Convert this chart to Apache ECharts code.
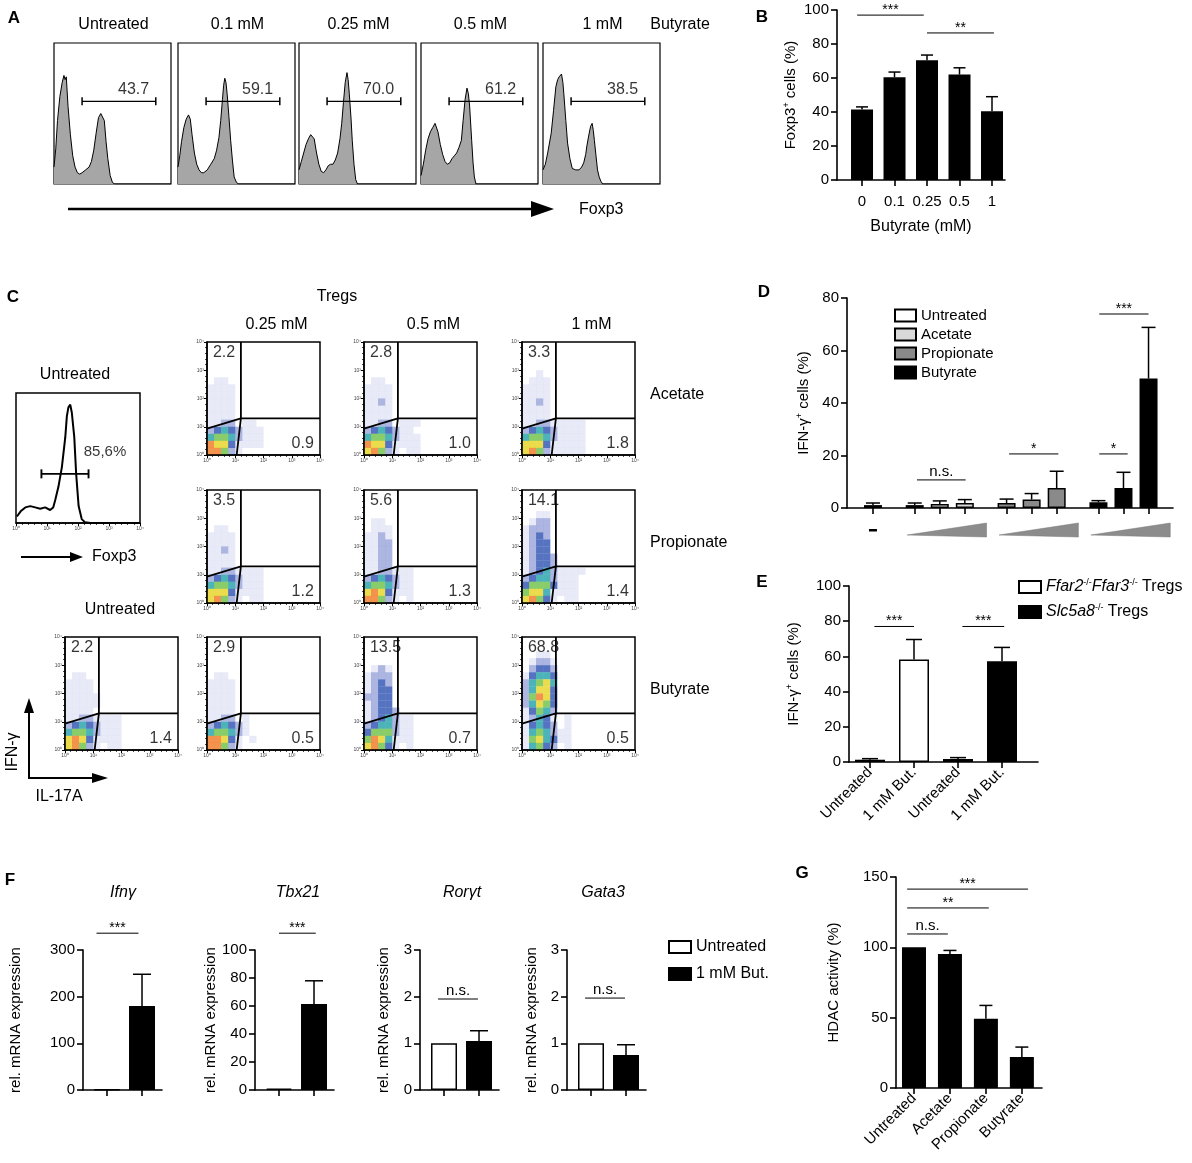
<!DOCTYPE html>
<html>
<head>
<meta charset="utf-8">
<title>Butyrate and Tregs</title>
<script src="https://cdn.jsdelivr.net/npm/echarts@6.0.0/dist/echarts.min.js"></script>
<style>
  html, body { margin: 0; padding: 0; background: #fff; }
  #fig { width: 1192px; height: 1163px; }
</style>
</head>
<body>
<div id="fig"></div>
<script>
var FONT = '"Liberation Sans", Arial, Helvetica, sans-serif';

// ---------- A: Foxp3 histograms (x, y in % of the plot box) ----------
var aConcs = ['Untreated', '0.1 mM', '0.25 mM', '0.5 mM', '1 mM'];
var aGates = ['43.7', '59.1', '70.0', '61.2', '38.5'];
var aHistUntreated = [[0,12],[1.5,25],[3,45],[5,62],[7,72],[8.5,77],[9.5,74],[10.5,76],[12,55],[14,35],[16,20],[18,12],[20,8],[22,7],[24,8],[27,10],[30,12],[32,16],[34,24],[36,36],[38,47],[40,50],[41,49],[43,45],[44.5,30],[46,18],[48,6],[50,1],[52,0],[100,0]];
var aHist01 = [[0,12],[1.5,20],[3,30],[5,40],[7,46],[9,49],[10.5,46],[12,35],[14,22],[16,14],[18,10],[20,8],[22,8],[25,10],[28,14],[31,18],[33,24],[35,33],[36.5,45],[38,60],[39,70],[40,75],[41,72],[42,64],[43.5,48],[45,31],[46.5,17],[48,5],[50,1],[52,0],[100,0]];
var aHist025 = [[0,10],[2,16],[4,22],[6,28],[8,32],[10,35],[11.5,36],[13,32],[15,22],[17,14],[19,9],[21,8],[23,10],[25,13],[27,14],[29,14],[31,17],[33,22],[35,32],[36.5,43],[38,58],[39.5,72],[41,79],[42,74],[43,64],[44.5,46],[45.5,31],[47,14],[48.5,3],[50,0],[100,0]];
var aHist05 = [[0,6],[2,14],[4,24],[6,32],[8,37],[10,40],[12,43],[13,42],[14.5,37],[16.5,28],[18.5,21],[20.5,16],[22.5,14],[24.5,15],[26.5,18],[28.5,20],[30.5,22],[32.5,26],[34.5,31],[36,45],[37.7,60],[39.3,68],[40.5,64],[41.5,56],[43.3,31],[44.5,15],[45.6,5],[47,0],[100,0]];
var aHist1 = [[0,10],[2,14],[4,22],[7,36],[9,52],[11,69],[12.5,74],[13.8,76],[15.8,78],[17,72],[17.8,64],[19.5,45],[21,29],[23,18],[25,11],[28,10],[30.8,10],[33,12],[34.8,15],[36.5,21],[37.5,27],[39,34],[40.7,41],[42,43],[43,38],[43.9,31],[45.3,20],[46.6,10],[48,5],[49.4,2],[51,0],[100,0]];
var aHists = [aHistUntreated, aHist01, aHist025, aHist05, aHist1];

// ---------- B: Foxp3+ cells ----------
var bCats = ['0', '0.1', '0.25', '0.5', '1'];
var bMean = [41.5, 60.5, 70.5, 62, 40.5];
var bTop = [43, 63.5, 73.5, 66, 49];
var bSig = [[-0.15, 1.9, 97, '***'], [2.0, 4.06, 86.5, '**']];

// ---------- C: Foxp3 histogram and IFN-γ / IL-17A dot plots ----------
var cHistUntreated = [[0.03,5],[0.15,9],[0.3,12],[0.46,13],[0.62,12],[0.78,11],[0.94,12],[1.1,10],[1.2,12],[1.27,18],[1.37,28],[1.48,43],[1.59,66],[1.64,82],[1.69,89],[1.75,91],[1.8,85],[1.88,66],[1.94,38],[2.02,13],[2.12,3],[2.23,0.5],[2.4,0],[4,0]];
var cHistGate = '85,6%';
var cCols = ['0.25 mM', '0.5 mM', '1 mM'];
var cRows = ['Acetate', 'Propionate', 'Butyrate'];
var cUpper = [['2.2', '2.8', '3.3'], ['3.5', '5.6', '14.1'], ['2.9', '13.5', '68.8']];
var cLower = [['0.9', '1.0', '1.8'], ['1.2', '1.3', '1.4'], ['0.5', '0.7', '0.5']];
var cUntUpper = '2.2', cUntLower = '1.4';
var cGate = {x: 1.2, y: 1.3, y0: 0.93, x0: 1.05};   // gate corners, in decades
// density levels in 0.25-decade cells; rows from y = 3.25-3.5 (top) down to y = 0-0.25
var cUntDens = ['', '', '', '0110', '1111', '1111', '11111', '11111', '1111', '11221111', '23432111', '45542111', '67631111', '67521011'];
var cDens = [
  [
    ['', '', '', '0110', '1111', '1111', '1111', '1111', '1111', '1122011', '23432111', '45542111', '76631111', '77521'],
    ['', '', '', '0110', '1111', '1111', '1121', '1111', '1111', '11220111', '2343211', '45542111', '76631111', '67521011'],
    ['', '', '0010', '0111', '1111', '1111', '1121', '1111', '1111', '112211111', '234321111', '455421111', '666311111', '675211111']
  ],
  [
    ['', '', '', '0110', '1111', '1111', '1121', '1111', '1111', '11221111', '23432111', '45542111', '66631111', '67521011'],
    ['', '', '0110', '0111', '1121', '1122', '1122', '1122', '1122', '1122111', '2343211', '4554211', '6763111', '7752101'],
    ['', '0011', '0122', '1222', '1232', '1233', '1233', '12332', '12332', '123421111', '23442111', '35553111', '56641111', '67531011']
  ],
  [
    ['', '', '', '0110', '1111', '1111', '1111', '1111', '1111', '112201', '234321', '455421', '7763101', '77521'],
    ['', '', '0121', '1222', '1232', '1233', '2233', '1233', '12332', '1234211', '2344211', '3555211', '5764111', '6753101'],
    ['00110', '01221', '02332', '13443', '24564', '24663', '25763', '24653', '13542', '1243101', '1343201', '1454211', '1564311', '1453201']
  ]
];

// ---------- D: IFN-γ+ cells, SCFA doses ----------
var dNames = ['Untreated', 'Acetate', 'Propionate', 'Butyrate'];
var dMean = [[1.1], [1.1, 1.5, 1.9], [1.9, 3.2, 7.6], [2.2, 7.6, 49.3]];
var dTop = [[1.9], [1.9, 2.7, 3.2], [3.4, 5.5, 14.0], [2.8, 13.6, 68.8]];
var dSig = [[5.27, 11.1, 10.7, 'n.s.'], [16.3, 22.2, 20.6, '*'], [27.1, 30.5, 20.6, '*'], [27.1, 33, 73.9, '***']];

// ---------- E: knockout Tregs ----------
var eCats = ['Untreated', '1 mM But.', 'Untreated', '1 mM But.'];
var eNames = ['Ffar2-/-Ffar3-/- Tregs', 'Slc5a8-/- Tregs'];
var eMean = [[1.3, 58.3], [1.7, 57.3]];
var eTop = [[1.9, 69.6], [2.5, 65.1]];
var eSig = [[0.1, 1.0, 77, '***'], [2.1, 3.05, 77, '***']];

// ---------- F: mRNA expression ----------
var fGenes = ['Ifnγ', 'Tbx21', 'Rorγt', 'Gata3'];
var fNames = ['Untreated', '1 mM But.'];
var fMean = [[1, 180], [1, 61.5], [1.0, 1.05], [1.0, 0.75]];
var fTop = [[null, 248], [null, 78], [null, 1.27], [null, 0.97]];
var fMax = [300, 100, 3, 3];
var fStep = [100, 20, 1, 1];
var fSig = [[-0.3, 0.9, 336, '***'], [0.0, 1.05, 112, '***'], [-0.17, 0.97, 1.95, 'n.s.'], [-0.17, 0.97, 1.97, 'n.s.']];

// ---------- G: HDAC activity ----------
var gCats = ['Untreated', 'Acetate', 'Propionate', 'Butyrate'];
var gMean = [100, 95.2, 49.3, 22];
var gTop = [null, 97.8, 58.7, 29.1];
var gSig = [[-0.19, 3.17, 141.4, '***'], [-0.19, 2.08, 128, '**'], [-0.19, 0.94, 109.5, 'n.s.']];

// ---------- layout ----------
var A_LEFT = [54, 178, 299, 421, 543], A_TOP = 43, A_W = 117, A_H = 141;
var C_LEFT = [207, 364, 522], C_TOP = [342, 490, 637], C_SIZE = 113;
var D_SLOTS = [[0], [5, 8, 11], [16, 19, 22], [27, 30, 33]];
var D_FILL = ['#ffffff', '#d9d9d9', '#8a8a8a', '#000000'];
var F_LEFT = [83, 255, 420, 567], F_GAP = [60, 34, 29, 28], F_TITLE_X = [123, 298, 462, 603];
var DENS_COL = [null, 'rgba(110,130,205,0.2)', 'rgba(50,70,180,0.5)', '#2a50b0', '#1fa0a8', '#6cbf45', '#e6d320', '#f07820'];
var SUP = ['\u2070', '\u00b9', '\u00b2', '\u00b3', '\u2074'];

var RICH = {
  a: {fontSize: 15, fontFamily: FONT, color: '#000', lineHeight: 18},
  s: {fontSize: 9, fontFamily: FONT, color: '#000', verticalAlign: 'top', lineHeight: 9},
  i: {fontSize: 16, fontFamily: FONT, fontStyle: 'italic', color: '#000', lineHeight: 18},
  t: {fontSize: 16, fontFamily: FONT, color: '#000', lineHeight: 18}
};

var grids = [], xAxes = [], yAxes = [], series = [], gfx = [];

function addGrid(l, t, w, h, xa, ya, frame) {
  var i = grids.length;
  grids.push({left: l, top: t, width: w, height: h, show: !!frame, borderColor: '#000',
              borderWidth: frame || 0, backgroundColor: 'transparent'});
  xa.gridIndex = i; ya.gridIndex = i;
  xAxes.push(xa); yAxes.push(ya);
  return i;
}
function hidden(min, max) { return {type: 'value', min: min, max: max, show: false}; }
function logAxis() {
  return {type: 'value', min: 0, max: 4, interval: 1, z: 6,
    axisLine: {show: true, onZero: false, lineStyle: {color: '#000', width: 1.5}},
    axisTick: {show: true, length: 3, lineStyle: {color: '#000', width: 1}},
    minorTick: {show: true, splitNumber: 5, length: 2, lineStyle: {color: '#000', width: 0.7}},
    axisLabel: {fontSize: 5, color: '#444', margin: 3, fontFamily: FONT,
                formatter: function (v) { return '10' + SUP[v]; }},
    splitLine: {show: false}};
}
function barX(min, max, ticks, labels, rotate, name, gap) {
  return {type: 'value', min: min, max: max,
    axisLine: {show: true, onZero: false, lineStyle: {color: '#000', width: 1.6}},
    axisTick: {show: true, customValues: ticks, length: 6, lineStyle: {color: '#000', width: 1.6}},
    axisLabel: {show: !!labels, customValues: ticks, rotate: rotate || 0, margin: rotate ? 8 : 14,
                fontSize: 15, color: '#000', fontFamily: FONT,
                formatter: function (v) { return labels ? labels[ticks.indexOf(v)] : ''; }},
    splitLine: {show: false},
    name: name || '', nameLocation: 'middle', nameGap: gap || 0,
    nameTextStyle: {fontSize: 16, color: '#000', fontFamily: FONT}};
}
function barY(max, step, name, gap) {
  return {type: 'value', min: 0, max: max, interval: step,
    axisLine: {show: true, onZero: false, lineStyle: {color: '#000', width: 1.6}},
    axisTick: {show: true, length: 6, lineStyle: {color: '#000', width: 1.6}},
    axisLabel: {fontSize: 15, color: '#000', fontFamily: FONT, margin: 8},
    splitLine: {show: false},
    name: name, nameLocation: 'middle', nameGap: gap, nameRotate: 90,
    nameTextStyle: {fontSize: 15, color: '#000', fontFamily: FONT, rich: RICH}};
}
function bars(gi, name, xs, vals, w, fill) {
  return {type: 'bar', name: name, xAxisIndex: gi, yAxisIndex: gi, barWidth: w, barGap: '-100%',
    data: xs.map(function (x, k) { return [x, vals[k]]; }), silent: true, z: 2,
    itemStyle: {color: fill, borderColor: '#000', borderWidth: 1.5}};
}
function errs(gi, xs, vals, tops, cap) {
  var pts = [];
  xs.forEach(function (x, k) { if (tops[k] != null) pts.push([x, vals[k], tops[k]]); });
  return {type: 'custom', xAxisIndex: gi, yAxisIndex: gi, data: pts, z: 3, silent: true, clip: false,
    renderItem: function (p, api) {
      var a = api.coord([api.value(0), api.value(1)]), b = api.coord([api.value(0), api.value(2)]);
      return {type: 'group', children: [
        {type: 'line', shape: {x1: a[0], y1: a[1], x2: b[0], y2: b[1]}, style: {stroke: '#000', lineWidth: 1.5}},
        {type: 'line', shape: {x1: b[0] - cap, y1: b[1], x2: b[0] + cap, y2: b[1]}, style: {stroke: '#000', lineWidth: 1.5}}
      ]};
    }};
}
function sigs(gi, sig) {
  return {type: 'custom', xAxisIndex: gi, yAxisIndex: gi, z: 4, silent: true, clip: false,
    data: sig.map(function (s) { return [s[0], s[1], s[2]]; }),
    renderItem: function (p, api) {
      var a = api.coord([api.value(0), api.value(2)]), b = api.coord([api.value(1), api.value(2)]);
      var t = sig[p.dataIndex][3], star = t.indexOf('*') >= 0;
      return {type: 'group', children: [
        {type: 'line', shape: {x1: a[0], y1: a[1], x2: b[0], y2: a[1]}, style: {stroke: '#000', lineWidth: 1}},
        {type: 'text', x: (a[0] + b[0]) / 2, y: a[1] + (star ? 2 : -1),
         style: {text: t, fontSize: star ? 14 : 15, fontFamily: FONT, fill: '#000', align: 'center', verticalAlign: 'bottom'}}
      ]};
    }};
}
function gateBar(gi, x1, x2, y, capH, lw) {
  return {type: 'line', xAxisIndex: gi, yAxisIndex: gi, data: [[x1, y], [x2, y]], silent: true, z: 4,
    symbol: 'rect', symbolSize: [lw + 0.3, capH], itemStyle: {color: '#000'},
    lineStyle: {color: '#000', width: lw}};
}
function pointLabels(gi, items, fs) {
  return {type: 'scatter', xAxisIndex: gi, yAxisIndex: gi, symbolSize: 1, silent: true, z: 5,
    itemStyle: {color: 'rgba(0,0,0,0)'},
    data: items.map(function (it) { return {value: it[0], label: {formatter: it[1], align: it[2]}}; }),
    label: {show: true, position: 'inside', fontSize: fs, color: '#000', fontFamily: FONT}};
}
function text(x, y, s, fs, o) {
  o = o || {};
  gfx.push({type: 'text', x: x, y: y, rotation: o.rot || 0, silent: true, z: 10,
    style: {text: s, fontSize: fs, fontFamily: FONT, fontWeight: o.bold ? 'bold' : 'normal',
            fontStyle: o.italic ? 'italic' : 'normal', fill: '#000', align: o.align || 'center', verticalAlign: 'middle'}});
}
function arrow(x1, y1, x2, y2, head, half, lw) {
  var dx = x2 - x1, dy = y2 - y1, L = Math.sqrt(dx * dx + dy * dy), ux = dx / L, uy = dy / L;
  var bx = x2 - ux * head, by = y2 - uy * head;
  gfx.push({type: 'line', silent: true, shape: {x1: x1, y1: y1, x2: bx, y2: by}, style: {stroke: '#000', lineWidth: lw}});
  gfx.push({type: 'polygon', silent: true,
    shape: {points: [[x2, y2], [bx - uy * half, by + ux * half], [bx + uy * half, by - ux * half]]}, style: {fill: '#000'}});
}
function dotPlot(l, t, dens, up, low) {
  var gi = addGrid(l, t, C_SIZE, C_SIZE, logAxis(), logAxis(), 1.5);
  var pts = [];
  dens.forEach(function (row, ri) {
    var r = dens.length - 1 - ri;
    for (var c = 0; c < row.length; c++) {
      var v = +row[c];
      if (v) pts.push([c * 0.25 + 0.125, r * 0.25 + 0.125, v]);
    }
  });
  series.push({type: 'scatter', xAxisIndex: gi, yAxisIndex: gi, data: pts, symbol: 'rect', symbolSize: 7.2,
    silent: true, z: 2, itemStyle: {color: function (p) { return DENS_COL[p.value[2]]; }}});
  var g = cGate;
  [[[g.x, 4], [g.x, g.y], [4, g.y]], [[0, g.y0], [g.x, g.y], [g.x0, 0]]].forEach(function (path) {
    series.push({type: 'line', xAxisIndex: gi, yAxisIndex: gi, data: path, symbol: 'none', silent: true, z: 4,
      lineStyle: {color: '#000', width: 1.8}});
  });
  series.push(pointLabels(gi, [[[0.21, 3.61], up, 'left'], [[3.78, 0.39], low, 'right']], 16));
}

// ---------- A ----------
text(14, 18, 'A', 17, {bold: true});
aHists.forEach(function (h, i) {
  var gi = addGrid(A_LEFT[i], A_TOP, A_W, A_H, hidden(0, 100), hidden(0, 100), 1.2);
  series.push({type: 'line', xAxisIndex: gi, yAxisIndex: gi, data: h, symbol: 'none', silent: true, z: 2,
    lineStyle: {color: '#000', width: 1}, areaStyle: {color: '#a6a6a6', opacity: 1}});
  series.push(gateBar(gi, 24, 87, 58.6, 8, 1.2));
  series.push(pointLabels(gi, [[[68, 67], aGates[i], 'center']], 16));
  text(A_LEFT[i] + A_W / 2 + 1, 25, aConcs[i], 16);
});
text(680, 25, 'Butyrate', 16);
arrow(68, 209, 554, 209, 23, 8, 2.5);
text(579, 210, 'Foxp3', 16, {align: 'left'});

// ---------- B ----------
text(762, 17, 'B', 17, {bold: true});
var bGi = addGrid(837, 10, 168, 170, barX(-0.77, 4.4, [0, 1, 2, 3, 4], bCats, 0, 'Butyrate (mM)', 39),
                  barY(100, 20, '{a|Foxp3}{s|+}{a| cells (%)}', 37));
series.push(bars(bGi, 'Foxp3', [0, 1, 2, 3, 4], bMean, 22, '#000'));
series.push(errs(bGi, [0, 1, 2, 3, 4], bMean, bTop, 6));
series.push(sigs(bGi, bSig));

// ---------- C ----------
text(13, 297, 'C', 17, {bold: true});
text(337, 297, 'Tregs', 16);
cCols.forEach(function (s, j) { text(C_LEFT[j] + C_SIZE / 2 + 13, 325, s, 16); });
cRows.forEach(function (s, i) { text(650, C_TOP[i] + 53, s, 16, {align: 'left'}); });
text(75, 375, 'Untreated', 16);
var chGi = addGrid(16, 393, 124, 130, logAxis(), hidden(0, 100), 1.5);
xAxes[chGi].z = 1;
series.push({type: 'line', xAxisIndex: chGi, yAxisIndex: chGi, data: cHistUntreated, symbol: 'none', silent: true,
  lineStyle: {color: '#000', width: 2}});
series.push(gateBar(chGi, 0.82, 2.34, 37.8, 9, 1.6));
series.push(pointLabels(chGi, [[[2.87, 55], cHistGate, 'center']], 15));
arrow(21, 557, 83, 557, 13, 5, 2);
text(92, 557, 'Foxp3', 16, {align: 'left'});
for (var ci = 0; ci < 3; ci++) {
  for (var cj = 0; cj < 3; cj++) dotPlot(C_LEFT[cj], C_TOP[ci], cDens[ci][cj], cUpper[ci][cj], cLower[ci][cj]);
}
text(120, 610, 'Untreated', 16);
dotPlot(65, 637, cUntDens, cUntUpper, cUntLower);
arrow(29, 779, 29, 698, 15, 5, 2);
arrow(28, 778, 108, 778, 16, 5, 2);
text(13, 752, 'IFN-\u03b3', 16, {rot: Math.PI / 2});
text(59, 797, 'IL-17A', 16);

// ---------- D ----------
text(764, 292, 'D', 17, {bold: true});
var dTicks = [].concat.apply([], D_SLOTS);
var dGi = addGrid(847, 298, 326, 210, barX(-3.11, 35.93, dTicks, null, 0),
                  barY(80, 20, '{a|IFN-\u03b3}{s|+}{a| cells (%)}', 34));
dNames.forEach(function (n, k) {
  series.push(bars(dGi, n, D_SLOTS[k], dMean[k], 18, D_FILL[k]));
  series.push(errs(dGi, D_SLOTS[k], dMean[k], dTop[k], 7));
});
series.push(sigs(dGi, dSig));
series.push({type: 'custom', xAxisIndex: dGi, yAxisIndex: dGi, silent: true, clip: false, z: 3,
  data: D_SLOTS.map(function (s) { return [s[0], s[s.length - 1]]; }),
  renderItem: function (p, api) {
    if (p.dataIndex === 0) {
      var c = api.coord([api.value(0), 0]);
      return {type: 'rect', shape: {x: c[0] - 4, y: c[1] + 21, width: 8, height: 2.5}, style: {fill: '#000'}};
    }
    var a = api.coord([api.value(0) - 0.9, 0]), b = api.coord([api.value(1) + 2.6, 0]);
    return {type: 'polygon', shape: {points: [[a[0], a[1] + 27], [b[0], b[1] + 15], [b[0], b[1] + 29]]},
            style: {fill: '#8c8c8c', stroke: '#777', lineWidth: 0.5}};
  }});

// ---------- E ----------
text(762, 582, 'E', 17, {bold: true});
var eGi = addGrid(849, 586, 189, 176, barX(-0.477, 3.818, [0, 1, 2, 3], eCats, 45),
                  barY(100, 20, '{a|IFN-\u03b3}{s|+}{a| cells (%)}', 46));
series.push(bars(eGi, eNames[0], [0, 1], eMean[0], 30, '#fff'));
series.push(bars(eGi, eNames[1], [2, 3], eMean[1], 30, '#000'));
series.push(errs(eGi, [0, 1], eMean[0], eTop[0], 8));
series.push(errs(eGi, [2, 3], eMean[1], eTop[1], 8));
series.push(sigs(eGi, eSig));

// ---------- F ----------
text(10, 880, 'F', 17, {bold: true});
fGenes.forEach(function (gname, k) {
  var gi = addGrid(F_LEFT[k], 950, 79, 140, barX(-0.686, 1.571, [0, 1], null, 0),
                   barY(fMax[k], fStep[k], 'rel. mRNA expression', F_GAP[k]));
  series.push(bars(gi, fNames[0], [0], [fMean[k][0]], 26, '#fff'));
  series.push(bars(gi, fNames[1], [1], [fMean[k][1]], 26, '#000'));
  series.push(errs(gi, [0, 1], fMean[k], fTop[k], 9));
  series.push(sigs(gi, [fSig[k]]));
  text(F_TITLE_X[k], 893, gname, 16, {italic: true});
});

// ---------- G ----------
text(802, 873, 'G', 17, {bold: true});
var gGi = addGrid(896, 877, 146, 211, barX(-0.5, 3.56, [0, 1, 2, 3], gCats, 45),
                  barY(150, 50, 'HDAC activity (%)', 55));
series.push(bars(gGi, 'HDAC', [0, 1, 2, 3], gMean, 24, '#000'));
series.push(errs(gGi, [0, 1, 2, 3], gMean, gTop, 6.5));
series.push(sigs(gGi, gSig));

function richGene(n) {
  return n.replace(/([A-Za-z0-9]+)-\/-/g, '{i|$1}{s|-/-}').replace(/ (\w+)$/, '{t| $1}');
}
var legendText = {fontSize: 16, fontFamily: FONT, color: '#000'};

var chart = echarts.init(document.getElementById('fig'));
chart.setOption({
  animation: false,
  backgroundColor: '#fff',
  textStyle: {fontFamily: FONT},
  grid: grids,
  xAxis: xAxes,
  yAxis: yAxes,
  legend: [
    {data: dNames, orient: 'vertical', left: 889, top: 303, itemWidth: 21, itemHeight: 12, itemGap: 4,
     icon: 'rect', selectedMode: false, textStyle: {fontSize: 15, fontFamily: FONT, color: '#000'}},
    {data: eNames, orient: 'vertical', left: 1013, top: 573, itemWidth: 22, itemHeight: 12, itemGap: 8,
     icon: 'rect', selectedMode: false, formatter: richGene,
     textStyle: {fontSize: 16, fontFamily: FONT, color: '#000', rich: RICH}},
    {data: fNames, orient: 'vertical', left: 663, top: 934, itemWidth: 22, itemHeight: 12, itemGap: 11,
     icon: 'rect', selectedMode: false, textStyle: legendText}
  ],
  series: series,
  graphic: {elements: gfx}
});
</script>
</body>
</html>
